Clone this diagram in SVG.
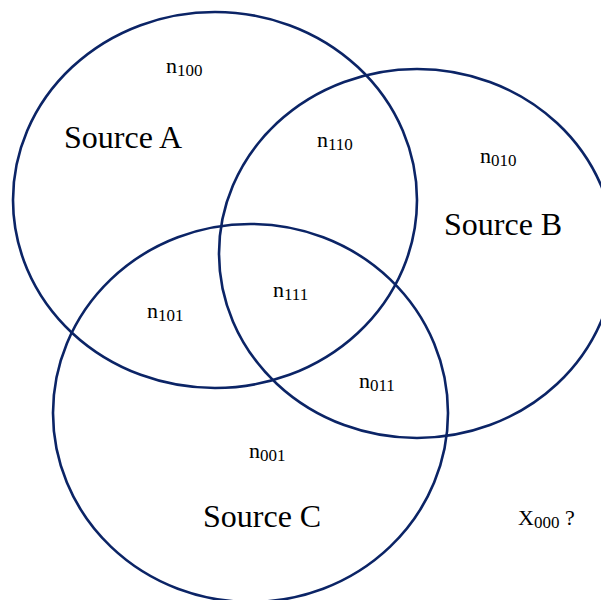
<svg xmlns="http://www.w3.org/2000/svg" width="601" height="600" viewBox="0 0 601 600">
<style>
.set{fill:none;stroke:#0b2466;stroke-width:2.6}
.lbl{font-family:"Liberation Serif","Times New Roman",serif;fill:#000}
.big{font-size:32px}
.n{font-size:22px}
.sub{font-size:17px}
</style>
<rect width="601" height="600" fill="#fff"/>
<g id="setA"><ellipse class="set" cx="215" cy="200" rx="202" ry="188"/></g>
<g id="setB"><ellipse class="set" cx="417" cy="253.5" rx="198" ry="184.5"/></g>
<g id="setC"><ellipse class="set" cx="250.5" cy="413" rx="197.5" ry="189"/></g>
<g id="labels" class="lbl">
<text class="big" x="64" y="148">Source A</text>
<text class="big" x="444" y="235">Source B</text>
<text class="big" x="203" y="527">Source C</text>
<text class="n" x="166" y="73">n<tspan class="sub" dy="2.5">100</tspan></text>
<text class="n" x="317" y="147">n<tspan class="sub" dy="2.5">110</tspan></text>
<text class="n" x="480" y="163">n<tspan class="sub" dy="2.5">010</tspan></text>
<text class="n" x="147" y="318">n<tspan class="sub" dy="2.5">101</tspan></text>
<text class="n" x="273" y="297">n<tspan class="sub" dy="2.5">111</tspan></text>
<text class="n" x="359" y="388">n<tspan class="sub" dy="2.5">011</tspan></text>
<text class="n" x="249" y="458">n<tspan class="sub" dy="2.5">001</tspan></text>
<text class="n" x="518" y="525">X<tspan class="sub" dy="2.5">000</tspan><tspan dy="-2.5"> ?</tspan></text>
</g>
</svg>
